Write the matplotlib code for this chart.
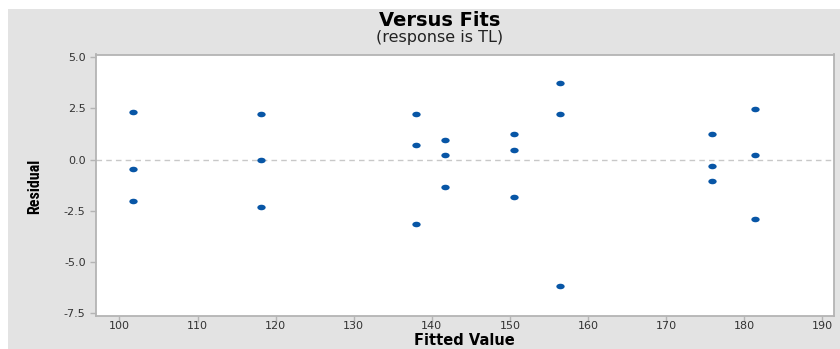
import matplotlib.pyplot as plt
import numpy as np
from matplotlib.path import Path
from matplotlib.transforms import Affine2D
from matplotlib.patches import Rectangle

# fitted values and residuals
fits = [101.7, 101.7, 101.7,
        118.1, 118.1, 118.1,
        138.0, 138.0, 138.0,
        141.7, 141.7, 141.7,
        150.5, 150.5, 150.5,
        156.4, 156.4, 156.4,
        175.9, 175.9, 175.9,
        181.4, 181.4, 181.4]
resid = [2.33, -0.45, -2.00,
         2.24, -0.03, -2.34,
         2.22, 0.71, -3.14,
         0.97, 0.22, -1.33,
         1.23, 0.45, -1.84,
         3.76, 2.22, -6.16,
         1.23, -0.31, -1.07,
         2.47, 0.20, -2.89]

xticks = [100, 110, 120, 130, 140, 150, 160, 170, 180, 190]
yticks = [-7.5, -5.0, -2.5, 0.0, 2.5, 5.0]

plt.rcParams['font.family'] = ['DejaVu Sans']

fig = plt.figure(figsize=(8.4, 3.49), dpi=100)
fig.patch.set_facecolor('white')
# grey panel behind everything
fig.patches.append(Rectangle((8/840, 0), 832/840, 1 - 9/349, transform=fig.transFigure,
                             facecolor='#e3e3e3', edgecolor='none', zorder=-10))

ax = fig.add_axes([96/840, 1 - 316/349, (834 - 96)/840, (316 - 54.5)/349])
ax.set_facecolor('white')

ell = Path.unit_circle().transformed(Affine2D().scale(1.5, 1.0))
ax.plot(fits, resid, linestyle='none', marker=ell, markersize=6,
        color='#0856a6', markeredgewidth=0, zorder=3)
ax.axhline(0, color='#c8c8c8', linestyle=(0, (4, 3)), linewidth=1.0, zorder=1)

ax.set_xlim(97.0, 191.5)
ax.set_ylim(-7.64, 5.13)
ax.set_xticks(xticks)
ax.set_yticks(yticks)
ax.set_yticklabels(['%.1f' % v for v in yticks])

for s in ax.spines.values():
    s.set_color('#b4b4b4')
    s.set_linewidth(1.3)
ax.tick_params(colors='#b4b4b4', labelcolor='#333333', labelsize=8, length=4, width=1)
ax.tick_params(axis='x', pad=-0.5)

fig.text(440/840, 1 - 20/349, 'Versus Fits', ha='center', va='center',
         fontsize=14, fontweight='bold', color='black')
fig.text(440/840, 1 - 37.5/349, '(response is TL)', ha='center', va='center',
         fontsize=11.5, color='#222222')
fig.text(464/840, 1 - 340.5/349, 'Fitted Value', ha='center', va='center',
         fontsize=10.5, fontweight='bold', color='black')
fig.text(35/840, 1 - 186/349, 'Residual', ha='center', va='center', rotation=90,
         fontsize=11.5, fontweight='bold', color='black',
         family=['DejaVu Sans Condensed', 'Roboto Condensed', 'Liberation Sans Narrow', 'Roboto'])

fig.savefig('out.png', dpi=100, facecolor=fig.get_facecolor())
